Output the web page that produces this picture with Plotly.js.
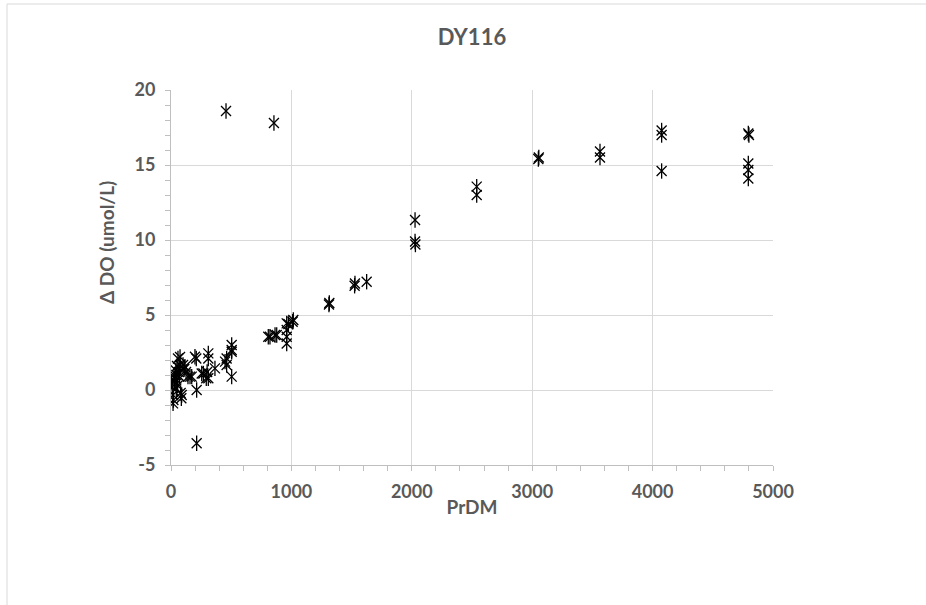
<!DOCTYPE html>
<html>
<head>
<meta charset="utf-8">
<script src="https://cdn.plot.ly/plotly-3.0.1.min.js"></script>
<style>
html,body{margin:0;padding:0;background:#fff;}
#chart{width:926px;height:605px;}
</style>
</head>
<body>
<div id="chart"></div>
<script>
// PrDM (dbar) values
var prdm = [
  3, 10, 17, 17, 20, 25, 30, 33, 40, 44, 44, 50, 55, 58, 65, 70, 75, 75, 80, 86, 89,
  100, 110, 116, 125, 141, 158, 172,
  199, 210, 213, 213, 255, 269, 293, 300, 310, 310, 310, 365, 449, 462, 462,
  504, 504, 504, 504, 457,
  808, 822, 864, 878, 855, 961, 961, 961, 961, 975, 1016, 1010,
  1312, 1315, 1528, 1525, 1625,
  2027, 2027, 2030, 2539, 2539, 3051, 3055, 3563, 3563,
  4075, 4075, 4075, 4795, 4800, 4795, 4795, 4795
];
// Delta DO (umol/L) values
var deltaDO = [
  0.55, 0.2, -0.33, -0.89, -0.67, 1.0, 0.6, 0.78, 1.3, 1.0, 0.1, 1.6, 0.3, 2.1, 1.2, 0.9, 2.2, 1.67, -0.2, -0.55, -0.33,
  1.67, 1.4, 1.55, 1.2, 0.89, 0.89, 0.89,
  2.22, 2.1, 0.0, -3.55, 1.1, 1.1, 0.78, 1.2, 2.44, 2.1, 0.78, 1.44, 1.89, 1.67, 2.1,
  3.0, 2.67, 2.55, 0.89, 18.6,
  3.55, 3.55, 3.67, 3.67, 17.8, 4.44, 4.0, 3.55, 3.1, 4.4, 4.67, 4.55,
  5.7, 5.8, 7.1, 6.95, 7.22,
  11.33, 9.9, 9.7, 13.56, 13.0, 15.4, 15.5, 15.9, 15.5,
  17.3, 17.0, 14.6, 17.1, 17.0, 15.1, 14.67, 14.1
];
var yTickVals = [-5, 0, 5, 10, 15, 20];
var yTickText = ["-5", "0", "5", "10", "15", "20"];
var chartTitle = "DY116";
var xTitle = "PrDM";
var yTitle = "\u0394 DO (umol/L)";

var gray = "#595959";
var fontFam = "Lato, 'Open Sans', sans-serif";

var traces = [
  {x: prdm, y: deltaDO, type: "scatter", mode: "markers", hoverinfo: "x+y",
   marker: {symbol: "x-thin-open", size: 10, color: "#000", line: {color: "#000", width: 1.3}}, showlegend: false},
  {x: prdm, y: deltaDO, type: "scatter", mode: "markers", hoverinfo: "skip",
   marker: {symbol: "line-ns-open", size: 11, color: "#000", line: {color: "#000", width: 1.3}}, showlegend: false}
];

var layout = {
  width: 926, height: 605,
  margin: {l: 171, r: 153, t: 90, b: 140},
  paper_bgcolor: "#fff", plot_bgcolor: "#fff",
  font: {family: fontFam, color: gray},
  title: {text: "<b>" + chartTitle + "</b>", font: {size: 22, color: gray, family: fontFam},
          xref: "paper", x: 0.5, xanchor: "center", yref: "container", y: 1 - 37/605, yanchor: "middle"},
  xaxis: {
    range: [0, 5000], dtick: 1000, tick0: 0,
    showgrid: true, gridcolor: "#d9d9d9", gridwidth: 1,
    zeroline: false,
    showline: true, linecolor: "#bfbfbf", linewidth: 1,
    ticks: "outside", ticklen: 5, tickcolor: "#bfbfbf",
    minor: {dtick: 200, ticks: "outside", ticklen: 5, tickcolor: "#bfbfbf", showgrid: false},
    tickfont: {size: 18, color: gray, family: fontFam, weight: "bold"},
    ticklabelstandoff: 5,
    title: {text: "<b>" + xTitle + "</b>", font: {size: 19, color: gray, family: fontFam}, standoff: 0}
  },
  yaxis: {
    range: [-5, 20], tickmode: "array", tickvals: yTickVals, ticktext: yTickText,
    showgrid: true, gridcolor: "#d9d9d9", gridwidth: 1,
    zeroline: true, zerolinecolor: "#d9d9d9", zerolinewidth: 1,
    showline: true, linecolor: "#bfbfbf", linewidth: 1,
    ticks: "outside", ticklen: 5, tickcolor: "#bfbfbf",
    minor: {dtick: 1, tick0: 0, ticks: "outside", ticklen: 5, tickcolor: "#bfbfbf", showgrid: false},
    tickfont: {size: 18, color: gray, family: fontFam, weight: "bold"},
    ticklabelstandoff: 6
  },
  annotations: [
    {text: "<b>" + yTitle + "</b>", textangle: -90, xref: "paper", yref: "paper",
     x: (106 - 171) / 602, y: (465 - 243) / 375, xanchor: "center", yanchor: "middle",
     showarrow: false, font: {size: 19, color: gray, family: fontFam}}
  ],
  shapes: [
    {type: "rect", xref: "paper", yref: "paper", layer: "below",
     x0: (7 - 171) / 602, x1: (935 - 171) / 602, y0: (465 - 615) / 375, y1: (465 - 4) / 375,
     line: {color: "#d9d9d9", width: 1}, fillcolor: "rgba(0,0,0,0)"}
  ]
};

Plotly.newPlot("chart", traces, layout, {displayModeBar: false, staticPlot: true});
</script>
</body>
</html>
